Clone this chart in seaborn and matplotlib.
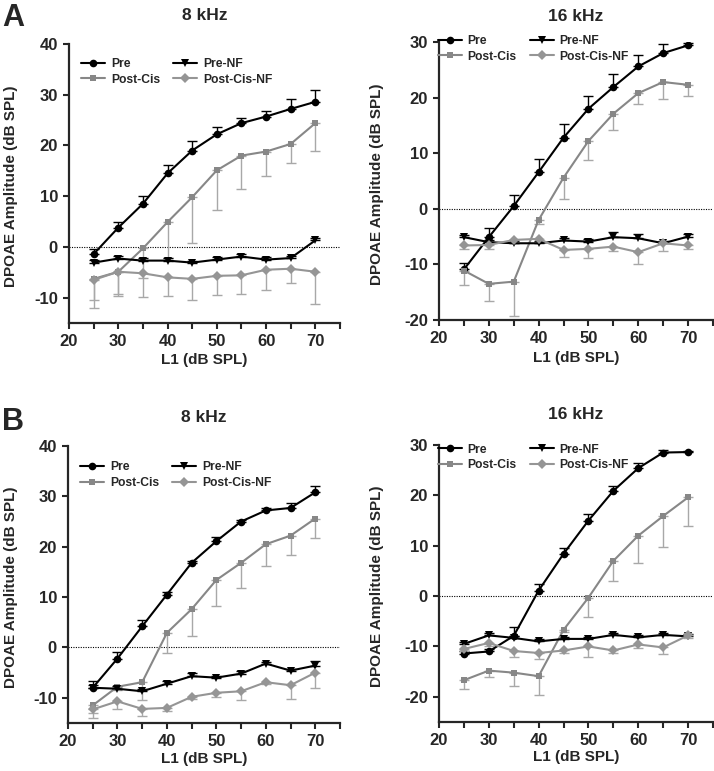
import matplotlib
matplotlib.use("Agg")
import matplotlib.pyplot as plt
import seaborn as sns
import numpy as np

# L1 levels (dB SPL)
levels = [25, 30, 35, 40, 45, 50, 55, 60, 65, 70]

# panel A, 8 kHz
a8_pre = [-1.4, 3.8, 8.5, 14.5, 19.0, 22.2, 24.4, 25.7, 27.2, 28.6]
a8_pre_err = [1.0, 1.2, 1.6, 1.6, 1.8, 1.5, 1.1, 1.1, 1.9, 2.4]
a8_cis = [-6.3, -4.9, -0.3, 4.9, 9.8, 15.1, 18.0, 18.8, 20.3, 24.4]
a8_cis_err = [4.1, 4.3, 5.9, 7.0, 9.1, 7.8, 6.6, 4.9, 3.8, 5.5]
a8_nf = [-3.1, -2.3, -2.7, -2.7, -3.1, -2.5, -1.9, -2.5, -2.2, 1.3]
a8_nf_err = [0.6, 0.5, 0.5, 0.5, 0.4, 0.5, 0.5, 0.5, 0.5, 0.5]
a8_cisnf = [-6.5, -4.9, -5.2, -6.0, -6.3, -5.7, -5.6, -4.5, -4.3, -4.9]
a8_cisnf_err = [5.5, 4.8, 4.7, 3.7, 4.1, 3.8, 3.6, 3.9, 2.8, 6.3]

# panel A, 16 kHz
a16_pre = [-10.9, -5.1, 0.5, 6.6, 12.8, 18.0, 21.9, 25.6, 28.0, 29.4]
a16_pre_err = [1.1, 1.6, 2.0, 2.4, 2.4, 2.2, 2.3, 2.1, 1.6, 0.4]
a16_cis = [-11.1, -13.5, -13.1, -2.0, 5.6, 12.2, 17.1, 20.8, 22.8, 22.3]
a16_cis_err = [2.6, 3.1, 6.2, 0.8, 3.9, 3.5, 2.9, 2.0, 3.1, 2.0]
a16_nf = [-5.1, -6.0, -6.2, -6.2, -5.7, -5.9, -5.1, -5.3, -6.2, -5.0]
a16_nf_err = [0.4, 0.4, 0.4, 0.4, 0.4, 0.4, 0.9, 0.8, 0.4, 0.4]
a16_cisnf = [-6.6, -6.5, -5.6, -5.4, -7.4, -7.2, -6.8, -7.8, -6.2, -6.6]
a16_cisnf_err = [0.6, 0.7, 0.6, 0.6, 1.2, 1.6, 0.7, 2.2, 1.3, 0.6]

# panel B, 8 kHz
b8_pre = [-8.0, -2.2, 4.2, 10.5, 16.8, 21.1, 25.0, 27.2, 27.7, 30.8]
b8_pre_err = [1.3, 1.2, 1.2, 0.5, 0.4, 0.9, 0.4, 0.4, 1.0, 1.2]
b8_cis = [-11.5, -7.8, -6.9, 2.9, 7.6, 13.4, 16.8, 20.5, 22.2, 25.6]
b8_cis_err = [1.5, 0.7, 3.5, 4.1, 5.3, 5.1, 5.0, 4.3, 3.8, 3.9]
b8_nf = [-8.0, -8.2, -8.7, -7.2, -5.7, -6.0, -5.2, -3.2, -4.6, -3.6]
b8_nf_err = [0.5, 0.5, 0.5, 0.5, 0.7, 0.4, 0.5, 0.4, 0.4, 0.9]
b8_cisnf = [-12.3, -10.7, -12.2, -12.0, -9.8, -9.0, -8.7, -6.9, -7.5, -5.0]
b8_cisnf_err = [1.8, 1.6, 1.4, 0.6, 0.4, 0.9, 1.8, 0.4, 2.7, 3.0]

# panel B, 16 kHz
b16_pre = [-11.4, -11.0, -7.9, 1.1, 8.4, 15.0, 20.9, 25.4, 28.5, 28.6]
b16_pre_err = [0.4, 0.4, 1.7, 1.4, 1.1, 1.3, 1.0, 1.0, 0.6, 0.3]
b16_cis = [-16.7, -14.8, -15.2, -15.9, -6.7, -0.3, 7.0, 12.0, 15.9, 19.6]
b16_cis_err = [1.8, 1.3, 2.6, 3.8, 0.5, 3.8, 4.1, 5.4, 6.2, 5.6]
b16_nf = [-9.5, -7.8, -8.3, -9.0, -8.5, -8.5, -7.7, -8.2, -7.7, -8.0]
b16_nf_err = [0.4, 0.4, 0.4, 0.4, 0.4, 0.4, 0.4, 0.4, 0.4, 0.4]
b16_cisnf = [-10.5, -9.3, -10.9, -11.3, -10.8, -10.0, -10.8, -9.6, -10.2, -7.8]
b16_cisnf_err = [0.5, 0.7, 1.2, 1.2, 0.5, 2.0, 0.5, 0.8, 1.2, 0.5]

labels = ["Pre", "Post-Cis", "Pre-NF", "Post-Cis-NF"]

sns.set_style("ticks")
plt.rcParams['font.family'] = ['Liberation Sans', 'DejaVu Sans']
plt.rcParams['font.weight'] = 'bold'
plt.rcParams['axes.labelweight'] = 'bold'
plt.rcParams['axes.unicode_minus'] = False

BLACK = '#000000'
GREY = '#878787'
GREY2 = '#959595'
EGREY = '#a8a8a8'

# name, color, errcolor, marker, size, error up?
styles = [
    (labels[0], BLACK, BLACK, 'o', 5.5, True),
    (labels[1], GREY, EGREY, 's', 5.0, False),
    (labels[2], BLACK, BLACK, 'v', 5.5, True),
    (labels[3], GREY2, EGREY, 'D', 4.8, False),
]


def draw_panel(ax, title, title_pad, ylim, yticks, data, leg_xy, xlab_y, ylab_x):
    ax.axhline(0, color='black', ls=(0, (1, 1.2)), lw=0.8, zorder=1)
    zeros = [0] * len(levels)
    for (name, col, ecol, mk, ms, up), (vals, errs) in zip(styles, data):
        yerr = [zeros, errs] if up else [errs, zeros]
        ax.errorbar(levels, vals, yerr=yerr, fmt='none', ecolor=ecol,
                    elinewidth=1.0, capsize=3.5, capthick=1.0, zorder=2)
        sns.lineplot(x=levels, y=vals, ax=ax, color=col, marker=mk,
                     markersize=ms, mec=col, mew=0, lw=1.5, label=name,
                     zorder=3)
    ax.set_xlim(20, 75)
    ax.set_ylim(*ylim)
    ax.set_xticks([20, 30, 40, 50, 60, 70])
    ax.set_xticks([25, 35, 45, 55, 65, 75], minor=True)
    ax.set_yticks(yticks)
    ax.tick_params(which='both', direction='out', length=4.5, width=1.5,
                   labelsize=12, pad=3.5)
    for lab in ax.get_xticklabels() + ax.get_yticklabels():
        lab.set_fontweight('bold')
    sns.despine(ax=ax)
    for sp in ['left', 'bottom']:
        ax.spines[sp].set_linewidth(1.6)
    ax.set_title(title, fontsize=12.5, fontweight='bold', pad=title_pad)
    ax.set_xlabel('L1 (dB SPL)', fontsize=11, fontweight='bold')
    ax.set_ylabel('DPOAE Amplitude (dB SPL)', fontsize=11, fontweight='bold')
    ax.xaxis.set_label_coords(0.5, xlab_y)
    ax.yaxis.set_label_coords(ylab_x, 0.49)
    ax.legend(loc='upper left', bbox_to_anchor=leg_xy, ncol=2, frameon=False,
              borderpad=0, borderaxespad=0, handlelength=2.0,
              handletextpad=0.45, columnspacing=1.1, labelspacing=0.3,
              prop={'weight': 'bold', 'size': 8.7})


fig = plt.figure(figsize=(7.14, 7.71), dpi=100)
W, H = 714.0, 771.0


def add_ax(x0, y0, x1, y1):
    return fig.add_axes([x0 / W, 1 - y1 / H, (x1 - x0) / W, (y1 - y0) / H])


ax1 = add_ax(69, 44, 340, 323)
ax2 = add_ax(439, 42, 713, 320)
ax3 = add_ax(68, 446, 340, 723)
ax4 = add_ax(439, 445, 713, 722)

draw_panel(ax1, '8 kHz', 17, (-15, 40), [-10, 0, 10, 20, 30, 40],
           [(a8_pre, a8_pre_err), (a8_cis, a8_cis_err), (a8_nf, a8_nf_err),
            (a8_cisnf, a8_cisnf_err)], (0.045, 0.95), -0.108, -0.188)
draw_panel(ax2, '16 kHz', 15, (-20, 30), [-20, -10, 0, 10, 20, 30],
           [(a16_pre, a16_pre_err), (a16_cis, a16_cis_err), (a16_nf, a16_nf_err),
            (a16_cisnf, a16_cisnf_err)], (-0.005, 1.025), -0.11, -0.2)
draw_panel(ax3, '8 kHz', 17.3, (-15, 40), [-10, 0, 10, 20, 30, 40],
           [(b8_pre, b8_pre_err), (b8_cis, b8_cis_err), (b8_nf, b8_nf_err),
            (b8_cisnf, b8_cisnf_err)], (0.045, 0.945), -0.104, -0.185)
draw_panel(ax4, '16 kHz', 18.7, (-25, 30), [-20, -10, 0, 10, 20, 30],
           [(b16_pre, b16_pre_err), (b16_cis, b16_cis_err), (b16_nf, b16_nf_err),
            (b16_cisnf, b16_cisnf_err)], (-0.005, 1.005), -0.1, -0.2)

fig.text(2 / W, 1 - 26 / H, 'A', fontsize=22, fontweight='bold', va='baseline', ha='left')
fig.text(2 / W, 1 - 430 / H, 'B', fontsize=22, fontweight='bold', va='baseline', ha='left')

fig.savefig('out.png', dpi=100)
